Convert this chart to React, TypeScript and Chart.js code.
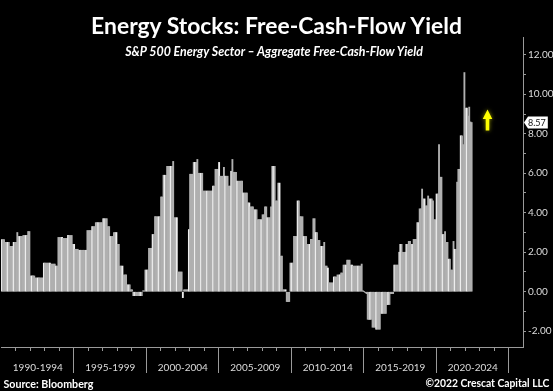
import React, { useEffect, useMemo, useRef } from 'react';
import { Chart, registerables } from 'chart.js';

Chart.register(...registerables);

// ---------- text ----------
const TITLE = 'Energy Stocks: Free-Cash-Flow Yield';
const SUBTITLE = 'S&P 500 Energy Sector \u2013 Aggregate Free-Cash-Flow Yield';
const SOURCE = 'Source: Bloomberg';
const COPYRIGHT = '\u00a92022 Crescat Capital LLC';

// ---------- axis ----------
const START_YEAR = 1990;
const AXIS_END_YEAR = 2025; // axis runs through the end of 2025
const periodLabels = ['1990-1994', '1995-1999', '2000-2004', '2005-2009', '2010-2014', '2015-2019', '2020-2024'];
const PERIOD_YEARS = 5;
const yMin = -2.8;
const yMax = 12.9;
const yStep = 1;
const yLabelEvery = 2;

// ---------- data: monthly aggregate FCF yield (%), Jan 1990 - Jun 2022 ----------
const fcfYield = [
  2.64, 2.64, 2.64, 2.5, 2.5, 2.5, 2.5, 2.3, 2.3, 2.3, 2.5, 2.5,
  2.5, 3.0, 2.8, 2.8, 2.8, 2.8, 2.85, 2.85, 2.85, 2.85, 3.05, 3.05,
  0.8, 0.8, 0.8, 0.8, 0.7, 0.7, 0.7, 0.7, 0.7, 0.7, 0.7, 1.45,
  1.45, 1.45, 1.45, 1.45, 1.45, 1.4, 1.4, 1.4, 1.4, 1.3, 1.3, 2.75,
  2.75, 2.75, 2.75, 2.7, 2.7, 2.7, 2.7, 2.85, 2.85, 2.85, 2.85, 2.4,
  2.4, 2.15, 2.15, 2.15, 2.1, 2.1, 2.1, 2.1, 2.1, 2.1, 2.1, 3.1,
  3.1, 3.1, 3.1, 3.3, 3.3, 3.3, 3.5, 3.5, 3.5, 3.5, 3.5, 3.5,
  3.7, 3.7, 3.7, 3.7, 3.3, 3.3, 2.8, 2.8, 2.8, 3.0, 3.0, 3.0,
  2.4, 2.4, 1.3, 1.3, 1.3, 0.85, 0.85, 0.85, 0.35, 0.35, 0.35, 0.1,
  0.1, -0.2, -0.2, -0.2, -0.2, -0.2, -0.2, -0.2, -0.2, 0.05, 0.05, 1.1,
  1.1, 1.1, 2.2, 2.2, 2.2, 2.9, 2.9, 3.8, 3.8, 3.8, 3.8, 3.8,
  4.8, 4.8, 5.9, 5.9, 5.9, 6.35, 6.35, 6.35, 6.35, 6.35, 6.6, 3.75,
  3.75, 3.75, 1.0, 1.0, 1.0, 1.0, -0.3, 0.1, 0.1, 0.1, 0.1, 3.15,
  5.95, 5.95, 5.95, 6.55, 6.55, 6.55, 6.7, 6.0, 6.0, 6.0, 6.0, 5.1,
  5.1, 5.1, 5.1, 5.1, 5.1, 5.1, 5.1, 5.35, 5.35, 6.2, 6.2, 6.2,
  6.55, 5.85, 5.85, 5.85, 6.3, 5.85, 5.85, 5.85, 5.35, 5.35, 6.1, 6.7,
  6.05, 6.05, 6.05, 5.6, 5.6, 5.6, 5.6, 5.6, 5.0, 5.0, 5.0, 5.0,
  4.5, 4.5, 4.3, 4.3, 4.3, 4.15, 4.15, 4.15, 3.65, 3.65, 3.65, 3.65,
  3.9, 3.9, 4.3, 4.3, 3.75, 3.75, 3.75, 4.3, 6.35, 6.35, 6.35, 4.6,
  4.6, 5.5, 5.5, 1.8, 1.8, 0.1, 0.1, 0.1, -0.5, -0.5, -0.5, 1.45,
  1.45, 1.45, 2.8, 2.8, 2.8, 4.6, 4.6, 3.8, 3.8, 3.8, 2.8, 2.8,
  2.8, 2.4, 2.4, 2.4, 2.65, 2.65, 3.7, 3.7, 3.0, 3.0, 2.6, 2.6,
  2.3, 2.3, 2.3, 2.5, 1.3, 1.3, 1.2, 0.45, 0.45, 0.45, 0.45, 0.75,
  0.75, 0.75, 0.85, 0.85, 0.85, 0.95, 0.95, 1.35, 1.35, 1.35, 1.6, 1.6,
  1.6, 1.35, 1.35, 1.3, 1.3, 1.3, 1.3, 1.3, 1.3, 1.3, 1.4, 0.05,
  0.0, -0.05, -0.1, -1.4, -1.4, -1.4, -1.4, -1.8, -1.8, -1.8, -1.9, -1.9,
  -1.9, -1.9, -1.1, -1.1, -1.1, -1.1, -1.1, -0.65, -0.65, -0.65, -0.1, -0.1,
  -0.1, 1.35, 1.35, 1.35, 1.35, 2.0, 2.4, 2.4, 2.0, 2.0, 2.0, 2.4,
  2.4, 2.55, 2.55, 2.4, 2.4, 2.65, 2.65, 2.65, 3.5, 3.5, 4.2, 4.2,
  5.2, 4.7, 4.7, 4.35, 4.35, 4.85, 4.7, 4.7, 4.7, 4.6, 3.65, 3.65,
  4.95, 4.95, 7.45, 5.8, 5.8, 2.9, 2.9, 3.05, 2.5, 2.5, 1.65, 1.65,
  1.1, 1.1, 2.55, 2.15, 2.15, 5.55, 6.2, 6.2, 7.9, 7.9, 7.45, 11.1,
  9.3, 9.3, 8.9, 9.35, 8.6, 8.57,
];

// ---------- styles ----------
const FONT = 'Lato';
const BG = '#000000';
const AXIS_COLOR = '#9a9a9a';
const TICK_TEXT = '#dcdcdc';
const BAR_COLOR = '#b0b0b0';
const BAR_HIGHLIGHT = '#eeeeee';
const ARROW_COLOR = '#ffff00';

const W = 553;
const H = 391;

const monthLabels: string[] = [];
for (let y = START_YEAR; y <= AXIS_END_YEAR; y++) {
  for (let m = 1; m <= 12; m++) monthLabels.push(`${y}-${String(m).padStart(2, '0')}`);
}
const MONTHS_PER_PERIOD = PERIOD_YEARS * 12;

const markerPlugin = {
  id: 'lastValueMarker',
  afterDraw(chart: any) {
    const { ctx, chartArea, scales } = chart;
    const y = scales.y;
    const last = fcfYield[fcfYield.length - 1];
    const py = y.getPixelForValue(last);
    const x0 = chartArea.right + 1;
    ctx.save();
    ctx.font = `9px ${FONT}`;
    const label = last.toFixed(2);
    const tw = ctx.measureText(label).width;
    // value tag on the axis
    ctx.fillStyle = '#ffffff';
    ctx.beginPath();
    ctx.moveTo(x0, py);
    ctx.lineTo(x0 + 4, py - 6);
    ctx.lineTo(x0 + 6 + tw, py - 6);
    ctx.lineTo(x0 + 6 + tw, py + 6);
    ctx.lineTo(x0 + 4, py + 6);
    ctx.closePath();
    ctx.fill();
    ctx.fillStyle = '#111111';
    ctx.textBaseline = 'middle';
    ctx.textAlign = 'left';
    ctx.fillText(label, x0 + 4, py + 0.5);
    // yellow up arrow
    const ax = chartArea.right - 35.5;
    const tip = py - 13;
    const headBase = py - 3.6;
    const bottom = py + 8;
    ctx.fillStyle = ARROW_COLOR;
    ctx.shadowColor = 'rgba(255,255,0,0.55)';
    ctx.shadowBlur = 4;
    ctx.beginPath();
    ctx.moveTo(ax, tip);
    ctx.lineTo(ax + 4.8, headBase);
    ctx.lineTo(ax + 1.8, headBase);
    ctx.lineTo(ax + 1.8, bottom);
    ctx.lineTo(ax - 1.8, bottom);
    ctx.lineTo(ax - 1.8, headBase);
    ctx.lineTo(ax - 4.8, headBase);
    ctx.closePath();
    ctx.fill();
    ctx.restore();
  },
};

function fitSize(text: string, style: string, target: number): number {
  const c = document.createElement('canvas').getContext('2d');
  if (!c) return 12;
  c.font = `${style} 20px ${FONT}`;
  const w = c.measureText(text).width;
  return w > 0 ? (20 * target) / w : 12;
}

export default function App() {
  const canvasRef = useRef<HTMLCanvasElement>(null);

  const sizes = useMemo(
    () => ({
      title: fitSize(TITLE, 'bold', 373),
      subtitle: fitSize(SUBTITLE, 'italic bold', 300),
      source: fitSize(SOURCE, 'bold', 90),
      copyright: fitSize(COPYRIGHT, 'bold', 124),
    }),
    []
  );

  useEffect(() => {
    if (!canvasRef.current) return;
    const chart = new Chart(canvasRef.current, {
      type: 'bar',
      data: {
        labels: monthLabels,
        datasets: [
          {
            data: fcfYield,
            backgroundColor: (ctx: any) => (ctx.dataIndex % 5 === 0 ? BAR_HIGHLIGHT : BAR_COLOR),
            borderWidth: 0,
            barPercentage: 1,
            categoryPercentage: 1,
          },
        ],
      },
      options: {
        animation: false,
        responsive: false,
        devicePixelRatio: 1,
        layout: { padding: { left: 1, top: 37, right: 0, bottom: 0 } },
        plugins: {
          legend: { display: false },
          tooltip: { enabled: false },
        },
        scales: {
          x: {
            type: 'category',
            offset: true,
            grid: {
              offset: true,
              drawOnChartArea: false,
              drawTicks: true,
              tickLength: 26,
              tickWidth: 1,
              tickColor: (ctx: any) => {
                const i = ctx.index;
                if (typeof i !== 'number' || i <= 0 || i >= monthLabels.length) return 'rgba(0,0,0,0)';
                if (i % 12 === 0) return AXIS_COLOR;
                return 'rgba(0,0,0,0)';
              },
              tickBorderDash: (ctx: any) => {
                const i = ctx.index;
                if (typeof i === 'number' && i % MONTHS_PER_PERIOD === 0) return [];
                return [3, 60];
              },
            },
            border: { display: true, color: AXIS_COLOR, width: 1 },
            ticks: {
              autoSkip: false,
              maxRotation: 0,
              minRotation: 0,
              padding: -11,
              color: TICK_TEXT,
              font: { family: FONT, size: 10 },
              callback: (_v: any, index: number) =>
                index % MONTHS_PER_PERIOD === MONTHS_PER_PERIOD / 2
                  ? periodLabels[Math.floor(index / MONTHS_PER_PERIOD)] ?? ''
                  : '',
            },
            afterFit: (scale: any) => {
              scale.height = 44;
            },
          },
          y: {
            position: 'right',
            min: yMin,
            max: yMax,
            grid: {
              drawOnChartArea: false,
              drawTicks: true,
              tickLength: 3,
              tickColor: AXIS_COLOR,
              tickBorderDash: (ctx: any) => {
                const v = ctx.tick ? ctx.tick.value : NaN;
                return Math.abs(v % yLabelEvery) < 1e-9 ? [] : [2, 10];
              },
            },
            border: { display: true, color: AXIS_COLOR, width: 1 },
            ticks: {
              stepSize: yStep,
              includeBounds: false,
              autoSkip: false,
              padding: 2,
              color: TICK_TEXT,
              font: { family: FONT, size: 10 },
              callback: (v: any) => (Math.abs(Number(v) % yLabelEvery) < 1e-9 ? Number(v).toFixed(2) : ''),
            },
            afterFit: (scale: any) => {
              scale.width = 30;
            },
          },
        },
      } as any,
      plugins: [markerPlugin],
    });
    return () => chart.destroy();
  }, []);

  const textTop = (capCenter: number, fs: number) => capCenter - 0.6285 * fs;

  const base: React.CSSProperties = {
    position: 'absolute',
    margin: 0,
    color: '#ffffff',
    fontFamily: FONT,
    whiteSpace: 'nowrap',
    lineHeight: 'normal',
  };

  return (
    <div style={{ position: 'fixed', left: 0, top: 0, width: W, height: H, background: BG, overflow: 'hidden' }}>
      <canvas ref={canvasRef} width={W} height={H} style={{ position: 'absolute', left: 0, top: 0, width: W, height: H }} />
      <div
        style={{
          ...base,
          left: 0,
          width: W,
          textAlign: 'center',
          fontWeight: 700,
          fontSize: sizes.title,
          top: textTop(25.5, sizes.title),
        }}
      >
        {TITLE}
      </div>
      <div
        style={{
          ...base,
          left: 0,
          width: 548,
          textAlign: 'center',
          fontWeight: 700,
          fontStyle: 'italic',
          fontSize: sizes.subtitle,
          top: textTop(51.3, sizes.subtitle),
        }}
      >
        {SUBTITLE}
      </div>
      <div style={{ ...base, left: 3.5, fontWeight: 700, fontSize: sizes.source, top: textTop(383.5, sizes.source) }}>
        {SOURCE}
      </div>
      <div
        style={{ ...base, right: 3.6, fontWeight: 700, fontSize: sizes.copyright, top: textTop(383.5, sizes.copyright) }}
      >
        {COPYRIGHT}
      </div>
    </div>
  );
}
